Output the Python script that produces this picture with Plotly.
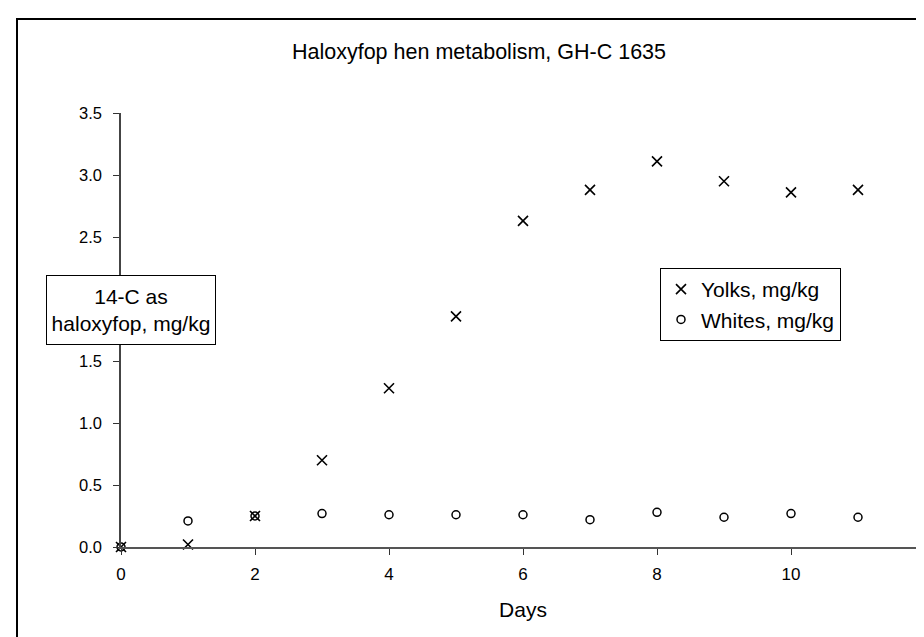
import plotly.graph_objects as go

days = [0, 1, 2, 3, 4, 5, 6, 7, 8, 9, 10, 11]
yolks = [0.00, 0.02, 0.25, 0.70, 1.28, 1.86, 2.63, 2.88, 3.11, 2.95, 2.86, 2.88]
whites = [0.00, 0.21, 0.25, 0.27, 0.26, 0.26, 0.26, 0.22, 0.28, 0.24, 0.27, 0.24]

title_text = "Haloxyfop hen metabolism, GH-C 1635"
x_title = "Days"
y_title = "14-C as<br>haloxyfop, mg/kg"
y_ticks = [0, 0.5, 1.0, 1.5, 2.0, 2.5, 3.0, 3.5]
# the 2.0 label is hidden behind the boxed axis title in the reference
y_labels = ["0.0", "0.5", "1.0", "1.5", "", "2.5", "3.0", "3.5"]
x_ticks = [0, 2, 4, 6, 8, 10, 12]

FONT = "Liberation Sans, Arial, sans-serif"
W, H = 924, 637
ML, MR, MT, MB = 113, 7, 105, 98
PW, PH = W - ML - MR, H - MT - MB


def px_x(p):
    return (p - ML) / PW


def px_y(p):
    return (H - MB - p) / PH


fig = go.Figure()
fig.add_trace(go.Scatter(
    x=days, y=yolks, mode="markers", name="Yolks, mg/kg",
    marker=dict(symbol="x-thin", size=10, line=dict(width=1.6, color="black"), color="black"),
    cliponaxis=False,
))
fig.add_trace(go.Scatter(
    x=days, y=whites, mode="markers", name="Whites, mg/kg",
    marker=dict(symbol="circle-open", size=8, line=dict(width=1.5, color="black"), color="black"),
    cliponaxis=False,
))

fig.update_layout(
    width=W, height=H,
    margin=dict(l=ML, r=MR, t=MT, b=MB),
    paper_bgcolor="white", plot_bgcolor="white",
    font=dict(family=FONT, size=21, color="black"),
    title=dict(text=title_text, x=471 / W, xref="container", xanchor="center",
               y=1 - 43 / H, yref="container", yanchor="middle",
               font=dict(size=21.5, color="black", family=FONT)),
    showlegend=True,
    legend=dict(
        x=px_x(652), y=px_y(260), xanchor="left", yanchor="top",
        bgcolor="white", bordercolor="black", borderwidth=1,
        font=dict(size=21, family=FONT, color="black"),
        itemwidth=30, tracegroupgap=0,
    ),
    xaxis=dict(
        range=[0, 12], tickvals=x_ticks, ticktext=[str(v) for v in x_ticks],
        showgrid=False, zeroline=False, showline=True, linecolor="#555", linewidth=1.5,
        ticks="outside", ticklen=6, tickcolor="#333", tickwidth=1,
        ticklabelstandoff=5,
        tickfont=dict(size=17, family=FONT, color="black"),
        title=dict(text=x_title, font=dict(size=21, family=FONT, color="black"), standoff=19),
        fixedrange=True,
    ),
    yaxis=dict(
        range=[0, 3.5], tickvals=y_ticks, ticktext=y_labels,
        showgrid=False, zeroline=False, showline=True, linecolor="#444", linewidth=1.5,
        ticks="outside", ticklen=6, tickcolor="#333", tickwidth=1,
        ticklabelstandoff=8,
        tickfont=dict(size=16.5, family=FONT, color="black"),
        fixedrange=True,
    ),
    annotations=[dict(
        text=y_title, xref="paper", yref="paper",
        x=px_x(123), y=px_y(302), xanchor="center", yanchor="middle",
        showarrow=False, align="center", width=160, height=60, valign="middle",
        font=dict(size=21, family=FONT, color="black"),
        bgcolor="white", bordercolor="black", borderwidth=1, borderpad=4,
    )],
    shapes=[dict(
        type="rect", xref="paper", yref="paper",
        x0=px_x(9), x1=px_x(960), y0=px_y(680), y1=px_y(11),
        line=dict(color="black", width=2), fillcolor="rgba(0,0,0,0)", layer="below",
    )],
)

fig.write_html("out.html")
